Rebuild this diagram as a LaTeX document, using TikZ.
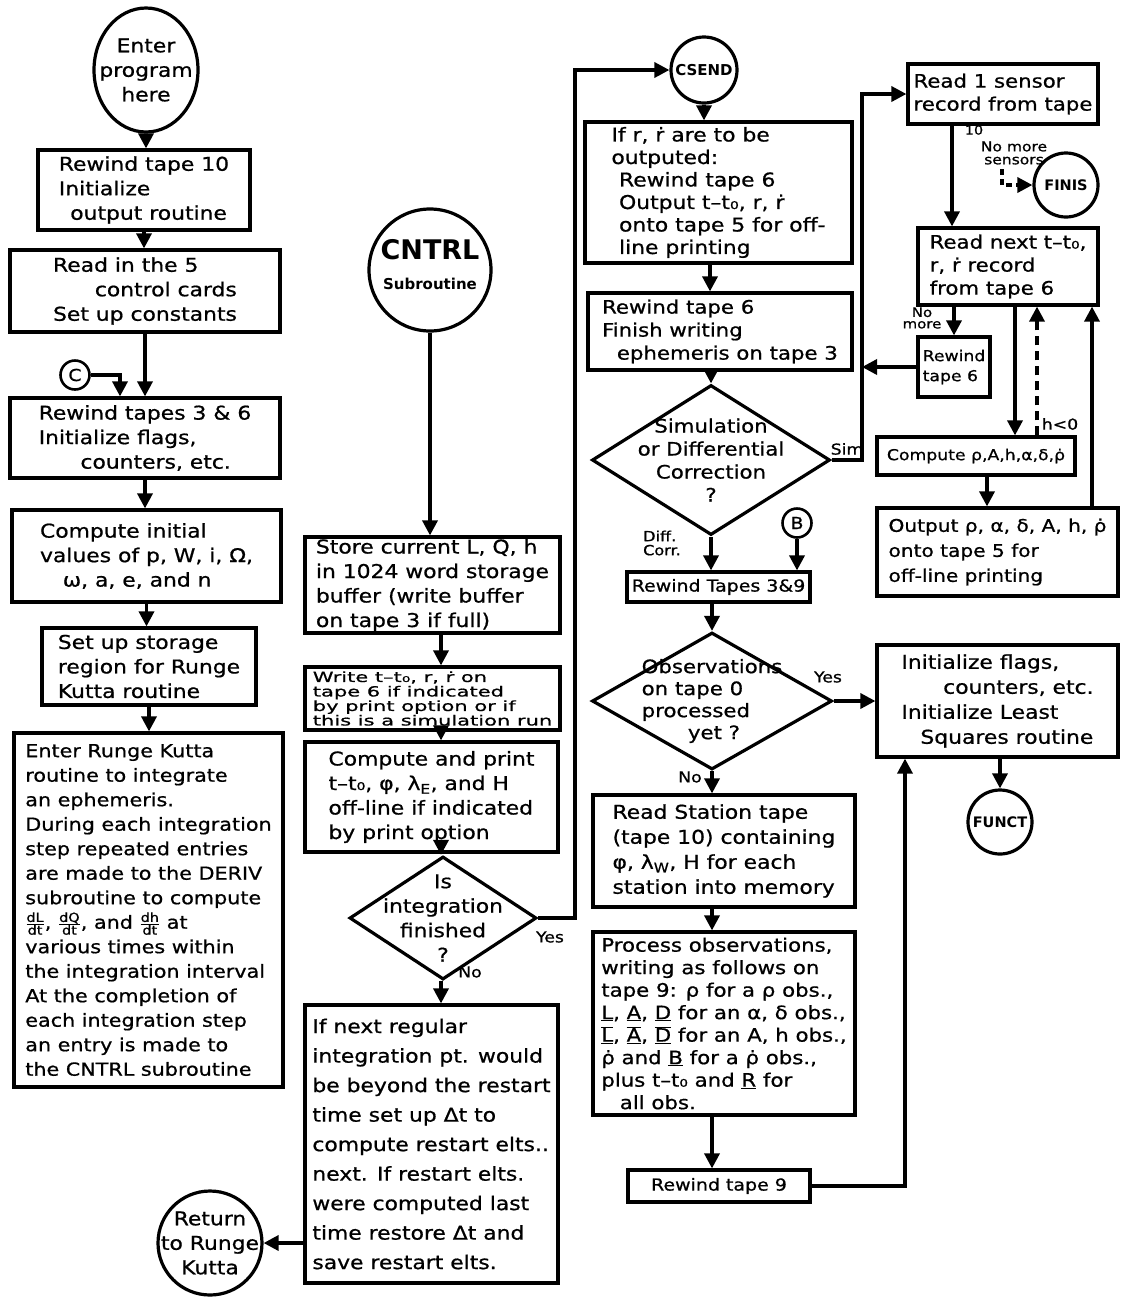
\documentclass[tikz,border=0pt]{standalone}
\usepackage{fontspec}
\setmainfont{DejaVu Sans}[FakeStretch=1.15, FakeBold=0.8]
\newfontfamily\titlesans{DejaVu Sans}
\usetikzlibrary{arrows.meta,shapes.geometric}
% type sizes
\newcommand\fmain{\fontsize{19}{24.5}\selectfont}
\newcommand\fmid{\fontsize{16.5}{20}\selectfont}
\newcommand\fsmall{\fontsize{15}{16}\selectfont}
\newcommand\ftiny{\fontsize{12.5}{12.5}\selectfont}
% symbols used in the texts
\newcommand\rdot{ṙ}
\newcommand\rhodot{ρ̇}
\newcommand\tto{t–t₀}
\newcommand\ubar[1]{\ensuremath{\overline{\underline{\hbox{#1}}}}}
\newcommand\ddt[1]{\ensuremath{\frac{\hbox{\ftiny d#1}}{\hbox{\ftiny dt}}}}
\begin{document}
\begin{tikzpicture}[x=1pt,y=-1pt,
  ink/.style={line width=3.2pt, draw=black},
  box/.style={ink, rectangle, inner sep=0pt, align=left, font=\fmain},
  term/.style={ink, circle, inner sep=0pt},
  decision/.style={ink, diamond, inner sep=0pt},
  conn/.style={ink, circle, inner sep=0pt, minimum size=29pt, line width=2.6pt, font=\fmid},
  flow/.style={line width=3.4pt, -{Triangle[length=15pt,width=15pt]}},
  note/.style={font=\fsmall, inner sep=1pt, align=left},
]
\useasboundingbox (0,0) rectangle (1120,1310);

% ---------- left column: main program ----------
\node[ink, ellipse, inner sep=0pt, minimum width=104pt, minimum height=124pt,
  label={[font=\fmain,align=center]center:Enter\\program\\here}] (enter) at (146,70) {};
\node[box, minimum width=212pt, minimum height=80pt] (b1) at (144,190)
  {Rewind tape 10\\Initialize\\\hspace*{0.6em}output routine};
\node[box, minimum width=270pt, minimum height=82pt] (b2) at (145,291)
  {Read in the 5\\\hspace*{2.2em}control cards\\Set up constants};
\node[conn] (cC) at (75,375) {C};
\node[box, minimum width=270pt, minimum height=80pt] (b3) at (145,438)
  {Rewind tapes 3 \& 6\\Initialize flags,\\\hspace*{2.2em}counters, etc.};
\node[box, minimum width=269pt, minimum height=92pt] (b4) at (146.5,556)
  {Compute initial\\values of p, W, i, Ω,\\\hspace*{1.2em}ω, a, e, and n};
\node[box, minimum width=214pt, minimum height=77pt] (b5) at (149,666.5)
  {Set up storage\\region for Runge\\Kutta routine};
\node[box, font=\fontsize{18}{24.5}\selectfont, minimum width=269pt, minimum height=354pt] (b6) at (148.5,910)
  {Enter Runge Kutta\\routine to integrate\\an ephemeris.\\During each integration\\step repeated entries\\are made to the DERIV\\subroutine to compute\\\ddt{L}, \ddt{Q}, and \ddt{h} at\\various times within\\the integration interval\\At the completion of\\each integration step\\an entry is made to\\the CNTRL subroutine};

\draw[flow] (enter.south) -- (enter.south |- b1.north);
\draw[flow] (b1.south) -- (b1.south |- b2.north);
\draw[flow] (b2.south) -- (b2.south |- b3.north);
\draw[flow] (cC.east) -| ([xshift=-25pt]b3.north);
\draw[flow] (b3.south) -- (b3.south |- b4.north);
\draw[flow] (b4.south) -- (b4.south |- b5.north);
\draw[flow] (b5.south) -- (b5.south |- b6.north);

% ---------- middle column: CNTRL subroutine ----------
\node[term, minimum size=122pt,
  label={[align=center, inner sep=0pt, yshift=5pt, font=\titlesans\bfseries\fontsize{27}{30}\selectfont]center:CNTRL\\{\fontsize{15}{16}\selectfont Subroutine}}] (cntrl) at (430,270) {};
\node[box, minimum width=255pt, minimum height=96pt] (s1) at (432.5,585)
  {Store current L, Q, h\\in 1024 word storage\\buffer (write buffer\\on tape 3 if full)};
\node[box, font=\fontsize{14}{14.5}\selectfont\addfontfeature{FakeStretch=1.5}, minimum width=255pt, minimum height=63pt] (s2) at (432.5,698.5)
  {Write \tto, r, \rdot{} on\\tape 6 if indicated\\by print option or if\\this is a simulation run};
\node[box, minimum width=253pt, minimum height=110pt] (s3) at (431.5,797)
  {Compute and print\\\tto, φ, λ\textsubscript{E}, and H\\off-line if indicated\\by print option};
\node[decision, minimum width=187pt, minimum height=123pt,
  label={[font=\fmain,align=center]center:Is\\integration\\finished\\?}] (d1) at (443,918) {};
\node[box, font=\fontsize{19}{29.5}\selectfont, minimum width=253pt, minimum height=278pt] (s4) at (431.5,1144)
  {If next regular\\integration pt. would\\be beyond the restart\\time set up Δt to\\compute restart elts..\\next. If restart elts.\\were computed last\\time restore Δt and\\save restart elts.};
\node[term, minimum size=104pt,
  label={[font=\fmain,align=center]center:Return\\to Runge\\Kutta}] (ret) at (210,1243) {};

\coordinate (mc) at (441,0);
\draw[flow] (cntrl.south) -- (cntrl.south |- s1.north);
\draw[flow] (s1.south -| mc) -- (s2.north -| mc);
\draw[flow] (s2.south -| mc) -- (s3.north -| mc);
\draw[flow] (s3.south -| mc) -- (d1.north -| mc);
\draw[flow] (d1.south -| mc) -- (s4.north -| mc);
\draw[flow] (s4.west |- ret.east) -- (ret.east);

% ---------- third column: end of integration ----------
\node[term, minimum size=66pt, font=\titlesans\fontsize{15}{16}\selectfont\bfseries] (csend) at (704,70) {CSEND};
\node[box, minimum width=267pt, minimum height=141pt, font=\fontsize{19}{22.5}\selectfont] (r1) at (718.5,192.5)
  {If r, \rdot{} are to be\\outputed:\\\hspace*{0.4em}Rewind tape 6\\\hspace*{0.4em}Output \tto, r, \rdot\\\hspace*{0.4em}onto tape 5 for off-\\\hspace*{0.4em}line printing};
\node[box, minimum width=264pt, minimum height=77pt, font=\fontsize{18.5}{23}\selectfont] (r2) at (720,331.5)
  {Rewind tape 6\\Finish writing\\\hspace*{0.8em}ephemeris on tape 3};
\node[decision, minimum width=238pt, minimum height=150pt,
  label={[font=\fontsize{18.5}{23}\selectfont,align=center]center:Simulation\\or Differential\\Correction\\?}] (d2) at (711,460) {};
\node[conn] (cB) at (797,523) {B};
\node[box, font=\fmid, minimum width=183pt, minimum height=30pt] (r3) at (718.5,587) {Rewind Tapes 3\&9};
\node[decision, minimum width=240pt, minimum height=137pt,
  label={[font=\fontsize{18.5}{22}\selectfont,align=left]center:Observations\\on tape 0\\processed\\\hspace*{2.5em}yet ?}] (d3) at (712,701) {};
\node[box, minimum width=262pt, minimum height=112pt, font=\fontsize{19}{25}\selectfont] (rst) at (724,851)
  {Read Station tape\\(tape 10) containing\\φ, λ\textsubscript{W}, H for each\\station into memory};
\node[box, minimum width=262pt, minimum height=183pt, font=\fontsize{18.5}{22.5}\selectfont] (proc) at (724,1023.5)
  {Process observations,\\writing as follows on\\tape 9: ρ for a ρ obs.,\\\underline{L}, \underline{A}, \underline{D} for an α, δ obs.,\\\ubar{L}, \ubar{A}, \ubar{D} for an A, h obs.,\\\rhodot{} and \underline{B} for a \rhodot{} obs.,\\plus \tto{} and \underline{R} for\\\hspace*{1em}all obs.};
\node[box, font=\fmid, minimum width=182pt, minimum height=32pt] (rw9) at (719,1186) {Rewind tape 9};

\coordinate (rc) at (710,0);
\coordinate (yx) at (575,0);
\draw[flow] (d1.east) -| (yx |- csend.west) -- (csend.west);
\draw[flow] (csend.south) -- (csend.south |- r1.north);
\draw[flow] (r1.south -| rc) -- (r2.north -| rc);
\draw[flow] (r2.south -| d2.north) -- (d2.north);
\draw[flow] (d2.south) -- (d2.south |- r3.north);
\draw[flow] (cB.south) -- (cB.south |- r3.north);
\draw[flow] (r3.south -| d3.north) -- (d3.north);
\draw[flow] (d3.south) -- (d3.south |- rst.north);
\draw[flow] (rst.south -| d3.south) -- (proc.north -| d3.south);
\draw[flow] (proc.south -| d3.south) -- (rw9.north -| d3.south);

% ---------- right column: simulation output and least squares ----------
\node[box, minimum width=190pt, minimum height=60pt, font=\fontsize{18.5}{23}\selectfont] (rs1) at (1003,94)
  {Read 1 sensor\\record from tape};
\node[term, minimum size=64pt, font=\titlesans\fontsize{14.5}{16}\selectfont\bfseries] (finis) at (1066,185) {FINIS};
\node[box, minimum width=180pt, minimum height=77pt, font=\fontsize{18.5}{23}\selectfont] (rs2) at (1008,266.5)
  {Read next \tto,\\r, \rdot{} record\\from tape 6};
\node[box, minimum width=72pt, minimum height=60pt, font=\fontsize{15}{20}\selectfont] (rw6) at (954,367) {Rewind\\tape 6};
\node[box, minimum width=198pt, minimum height=38pt, font=\fontsize{15}{20}\selectfont] (comp) at (976,456)
  {Compute ρ,A,h,α,δ,\rhodot};
\node[box, minimum width=241pt, minimum height=88pt, font=\fontsize{17.5}{25}\selectfont] (out) at (997.5,552)
  {Output ρ, α, δ, A, h, \rhodot\\onto tape 5 for\\off-line printing};
\node[box, minimum width=241pt, minimum height=112pt, font=\fontsize{19}{25}\selectfont] (init) at (997.5,701)
  {Initialize flags,\\\hspace*{2.2em}counters, etc.\\Initialize Least\\\hspace*{1em}Squares routine};
\node[term, minimum size=64pt, font=\titlesans\fontsize{14.5}{16}\selectfont\bfseries] (funct) at (1000,822) {FUNCT};

\coordinate (vl) at (862,0);
\coordinate (vx) at (905,0);
\coordinate (c1) at (952,0);
\coordinate (c2) at (1015,0);
\coordinate (c3) at (1037,0);
\coordinate (c4) at (1092,0);
\coordinate (c5) at (987,0);
\coordinate (ns) at (1002,169);
\draw[flow] (d2.east) -| (vl |- rs1.west) -- (rs1.west);
\draw[flow] (rw6.west) -- (vl |- rw6.west);
\draw[flow] (rs1.south -| c1) -- (rs2.north -| c1);
\draw[flow, dash pattern=on 6pt off 4pt] (ns) |- (finis.west);
\draw[flow] (rs2.south -| rw6.north) -- (rw6.north);
\draw[flow] (rs2.south -| c2) -- (comp.north -| c2);
\draw[flow, dash pattern=on 9pt off 6pt] (comp.north -| c3) -- (rs2.south -| c3);
\draw[flow] (out.north -| c4) -- (rs2.south -| c4);
\draw[flow] (comp.south -| c5) -- (out.north -| c5);
\draw[flow] (d3.east) -- (d3.east -| init.west);
\draw[flow] (rw9.east) -| (vx |- init.south);
\draw[flow] (init.south -| funct.north) -- (funct.north);

% ---------- branch labels ----------
\node[note] (yes1) at (550,937) {Yes};
\node[note] (no1) at (470,972) {No};
\node[note] (sim) at (847,449) {Sim};
\node[note, font=\fontsize{14}{14}\selectfont] (diff) at (662,543) {Diff.\\Corr.};
\node[note] (yes2) at (828,677) {Yes};
\node[note] (no2) at (690,777) {No};
\node[note, font=\fontsize{13}{11.5}\selectfont, align=center] (nomore) at (922,318) {No\\more};
\node[note, font=\fontsize{13.5}{13}\selectfont, align=center] (nosens) at (1014,153) {No more\\sensors};
\node[note, font=\fontsize{12.5}{12.5}\selectfont] (ten) at (974,130) {10};
\node[note] (hneg) at (1060,424) {h<0};
\end{tikzpicture}
\end{document}
